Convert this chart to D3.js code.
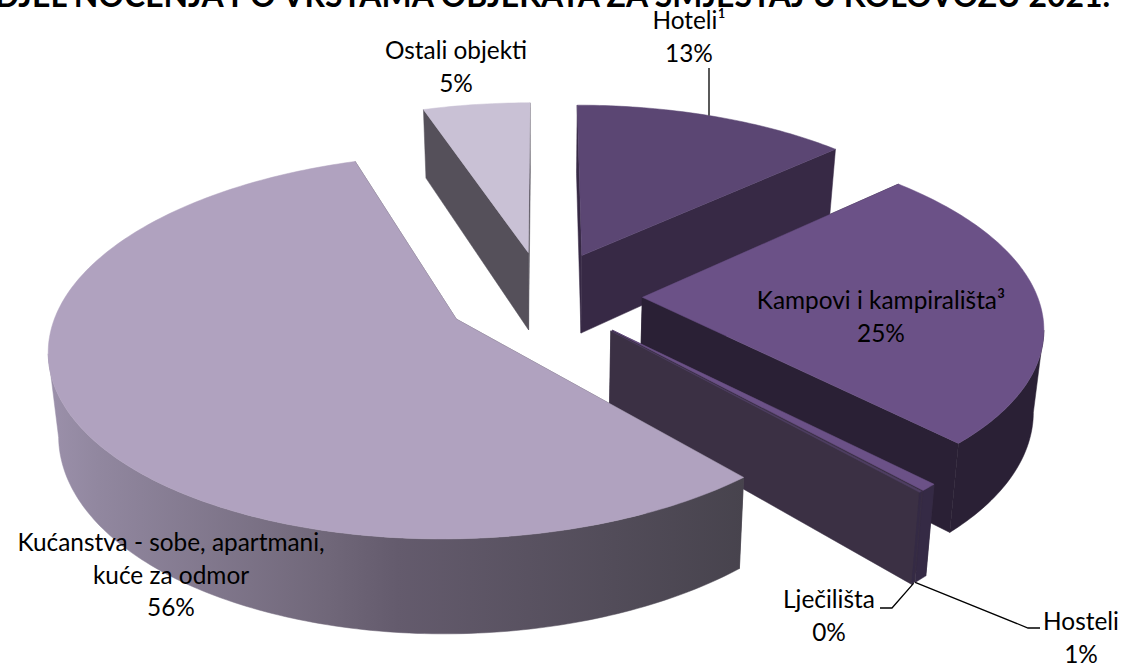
<!DOCTYPE html>
<html>
<head>
<meta charset="utf-8">
<script src="https://cdn.jsdelivr.net/npm/d3@7/dist/d3.min.js"></script>
<style>
html,body{margin:0;padding:0;background:#fff;overflow:hidden}
text{font-family:Lato,"Open Sans",sans-serif;fill:#000}
</style>
</head>
<body>
<svg id="c" width="1127" height="666"></svg>
<script>
// Data
const chartTitle = "UDJEL NOĆENJA PO VRSTAMA OBJEKATA ZA SMJEŠTAJ U KOLOVOZU 2021.";
const categories = ["Hoteli¹","Kampovi i kampirališta³","Hosteli","Lječilišta","Kućanstva - sobe, apartmani, kuće za odmor","Ostali objekti"];
const values = [13.1,24.7,0.6,0.1,56.4,5.1];
const labelLines = [["Hoteli¹"],["Kampovi i kampirališta³"],["Hosteli"],["Lječilišta"],["Kućanstva - sobe, apartmani,","kuće za odmor"],["Ostali objekti"]];

// Styles
const topColors  = ["#5b4673","#6b5187","#6b5187","#4f3f62","#b0a2bf","#c9c1d5"];
const wallColors = ["#372945","#2a2035","#3a2f44","#3b3044","#55505a","#55505a"];
const rimColors  = ["#372945","#2a2035","#352a45","#352a45","url(#rimGrad)","#55505a"];
const drawOrder  = [5,0,1,2,3,4];

// Layout
const O = {x:543.5,y:296}, Rx = 395, Ry = 182, P = 0.14, EXPLODE = 0.25, DEPTH = 80, TAPER = 0.021;
const labelPos = [
  {x:689,y:29},{x:881,y:309},{x:1081,y:630},{x:829,y:608},{x:171,y:551},{x:456,y:59}
];
const LINE_H = 32.5;

const svg = d3.select("#c");
const defs = svg.append("defs");
const g = defs.append("linearGradient").attr("id","rimGrad").attr("gradientUnits","userSpaceOnUse")
  .attr("x1",50).attr("x2",745).attr("y1",0).attr("y2",0);
[[0,"#9b90aa"],[0.07,"#91879f"],[0.4,"#706779"],[0.5,"#645b6d"],[1,"#47434d"]].forEach(s=>
  g.append("stop").attr("offset",s[0]).attr("stop-color",s[1]));

function project(X,Y,z){
  const s = 1/(1-P*Y);
  return [O.x + X*Rx*s*(1-TAPER*z), O.y + Y*Ry*s + z*DEPTH*s];
}
const line = d3.line();
const arcs = d3.pie().sort(null).startAngle(0).endAngle(2*Math.PI)(values);

function geom(a){
  const mid=(a.startAngle+a.endAngle)/2;
  const ex=EXPLODE*Math.sin(mid), ey=-EXPLODE*Math.cos(mid);
  const n=Math.max(2,Math.ceil((a.endAngle-a.startAngle)*60));
  const th=d3.range(n+1).map(i=>a.startAngle+(a.endAngle-a.startAngle)*i/n);
  const rim=z=>th.map(t=>project(ex+Math.sin(t),ey-Math.cos(t),z));
  const apex=z=>project(ex,ey,z);
  return {rim,apex};
}

const chart = svg.append("g");
drawOrder.forEach(i=>{
  const a=arcs[i], G=geom(a);
  const r0=G.rim(0), r1=G.rim(1), a0=G.apex(0), a1=G.apex(1);
  const slice=chart.append("g").attr("class","slice");
  const wall=(pts,fill)=>slice.append("path").attr("d",line(pts)+"Z").attr("fill",fill).attr("stroke",fill).attr("stroke-width",0.5);
  wall([a0,r0[0],r1[0],a1],wallColors[i]);
  wall([a0,r0[r0.length-1],r1[r1.length-1],a1],wallColors[i]);
  // only the part of the rim facing the viewer: from the rightmost to the leftmost point
  const iMax=d3.greatestIndex(r0,p=>p[0]), iMin=d3.leastIndex(r0,p=>p[0]);
  const lo=iMax, hi=iMin>iMax?iMin:r0.length-1;
  if(hi>lo) wall(r0.slice(lo,hi+1).concat(r1.slice(lo,hi+1).reverse()),rimColors[i]);
  wall([a0].concat(r0),topColors[i]);
});

// Leaders
const rimPoint=(i,f)=>{const r=geom(arcs[i]).rim(1);return r[Math.round((r.length-1)*f)];};
function rimY(i){const r=geom(arcs[i]).rim(0);return d3.least(r,p=>Math.abs(p[0]-709))[1];}
const leaders=[
  [[709,68],[709,rimY(0)]],
  [[1040,628],[1028,628],rimPoint(2,1)],
  [[880,608],[892,608],rimPoint(3,0)]
];
svg.append("g").selectAll("path").data(leaders).join("path")
  .attr("d",d=>line(d)).attr("fill","none").attr("stroke","#000").attr("stroke-width",1.3);

// Labels
const pct=d3.format(".0%"), total=d3.sum(values);
const labels=svg.append("g").attr("font-size",24.4).attr("text-anchor","middle");
categories.forEach((c,i)=>{
  const lines=labelLines[i].concat([pct(values[i]/total)]);
  lines.forEach((t,k)=>labels.append("text").attr("x",labelPos[i].x).attr("y",labelPos[i].y+k*LINE_H).text(t));
});

// Title
svg.append("text").attr("x",1110).attr("y",7).attr("text-anchor","end")
  .attr("font-size",31.9).attr("font-weight",700).text(chartTitle);
</script>
</body>
</html>
